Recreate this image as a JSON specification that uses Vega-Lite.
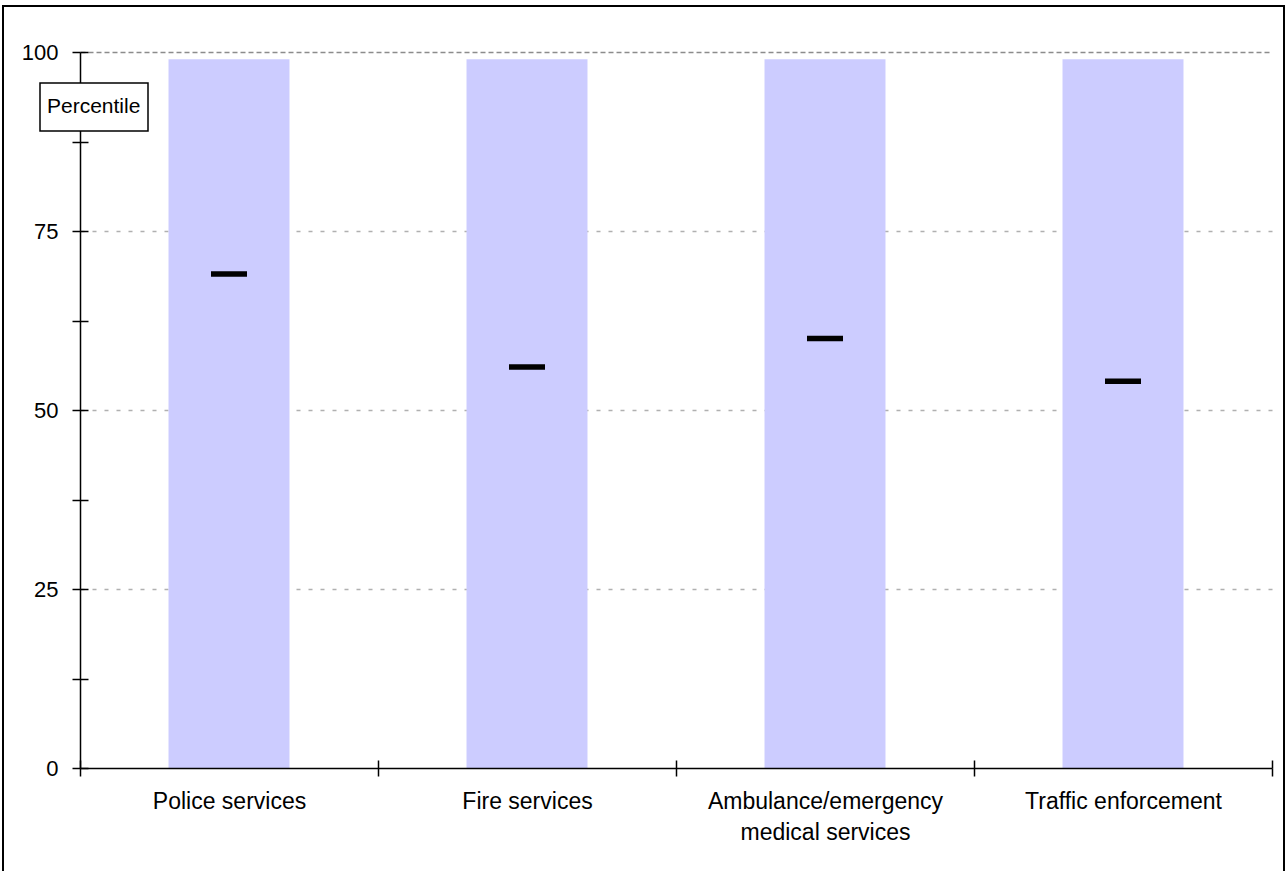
{
  "$schema": "https://vega.github.io/schema/vega-lite/v6.json",
  "width": 1281,
  "height": 867,
  "autosize": {"type": "none"},
  "padding": {"left": 3, "top": 6, "right": 2, "bottom": 0},
  "background": "white",
  "config": {
    "view": {"stroke": "black", "strokeWidth": 2},
    "font": "Liberation Sans",
    "axis": {"labelFont": "Liberation Sans", "labelColor": "black"}
  },
  "data": {
    "values": [
      {"service": "Police services", "top": 99, "percentile": 69, "measure": "Percentile"},
      {"service": "Fire services", "top": 99, "percentile": 56, "measure": "Percentile"},
      {"service": "Ambulance/emergency medical services", "top": 99, "percentile": 60, "measure": "Percentile"},
      {"service": "Traffic enforcement", "top": 99, "percentile": 54, "measure": "Percentile"}
    ]
  },
  "resolve": {"axis": {"x": "independent", "y": "independent"}},
  "layer": [
    {
      "mark": {"type": "bar", "color": "#ccccff", "width": {"band": 0.406}},
      "encoding": {
        "x": {
          "field": "service", "type": "nominal", "sort": null,
          "scale": {"range": [77, 1269], "paddingInner": 0, "paddingOuter": 0},
          "axis": {
            "orient": "bottom", "offset": -105, "title": null, "zindex": 1,
            "domainColor": "black", "domainWidth": 1.5, "tickBand": "extent",
            "tickColor": "black", "tickWidth": 1.5, "tickSize": 8,
            "labelAngle": 0, "labelFontSize": 23, "labelPadding": 14, "labelLineHeight": 31,
            "labelLimit": 400,
            "labelExpr": "datum.value == 'Ambulance/emergency medical services' ? ['Ambulance/emergency', 'medical services'] : datum.label",
            "grid": false
          }
        },
        "y": {
          "field": "top", "type": "quantitative",
          "scale": {"domain": [0, 100], "range": [762, 46], "nice": false},
          "axis": {
            "orient": "left", "offset": -77, "title": null,
            "values": [0, 12.5, 25, 37.5, 50, 62.5, 75, 87.5, 100],
            "labelExpr": "datum.value % 25 == 0 ? datum.label : ''",
            "domainColor": "black", "domainWidth": 1.5,
            "tickColor": "black", "tickWidth": 1.5, "tickSize": 8,
            "labelFontSize": 22, "labelPadding": 14,
            "grid": true, "gridWidth": 1.5,
            "gridColor": {"condition": {"test": "datum.value == 100", "value": "#8c8c8c"}, "value": "#b0b0b0"},
            "gridDash": {"condition": {"test": "datum.value == 100", "value": [5, 3]}, "value": [4, 8]},
            "gridOpacity": {"condition": {"test": "datum.value % 25 == 0 && datum.value > 0", "value": 1}, "value": 0}
          }
        }
      }
    },
    {
      "mark": {"type": "tick", "size": 36, "thickness": 5.5, "opacity": 1},
      "encoding": {
        "x": {
          "field": "service", "type": "nominal", "sort": null,
          "axis": {
            "orient": "top", "offset": -762, "title": null, "zindex": 1,
            "domain": false, "labels": false, "tickBand": "extent", "grid": false,
            "tickColor": "black", "tickWidth": 1.5, "tickSize": 8
          }
        },
        "y": {
          "field": "percentile", "type": "quantitative",
          "axis": {
            "orient": "left", "offset": -77, "title": null, "zindex": 1,
            "values": [0, 12.5, 25, 37.5, 50, 62.5, 75, 87.5, 100],
            "domain": false, "labels": false, "grid": false,
            "tickColor": "black", "tickWidth": 1.5, "tickSize": -8
          }
        },
        "color": {
          "field": "measure", "type": "nominal",
          "scale": {"range": ["black"]},
          "legend": {
            "orient": "none", "legendX": 37, "legendY": 77, "title": null, "zindex": 2,
            "fillColor": "white", "strokeColor": "black", "padding": 7,
            "symbolOpacity": 0, "symbolStrokeWidth": 0, "symbolSize": 1156, "symbolType": "square",
            "labelOffset": -34, "labelFontSize": 21, "labelColor": "black", "labelFont": "Liberation Sans",
            "encode": {"legend": {"update": {"strokeWidth": {"value": 1.5}}}}
          }
        }
      }
    }
  ]
}
